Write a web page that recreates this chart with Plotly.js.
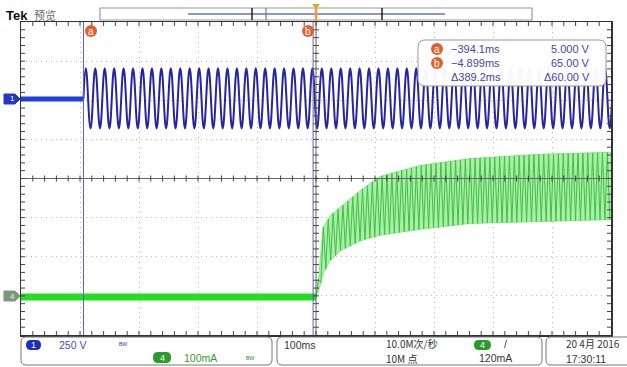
<!DOCTYPE html>
<html><head><meta charset="utf-8">
<script src="https://cdn.plot.ly/plotly-3.0.1.min.js"></script>
<style>html,body{margin:0;padding:0;background:#fff;}#chart{width:627px;height:367px;}</style>
</head><body><div id="chart"></div>
<script>
// ---- data (time in ms, level in divisions) ----
const ch1CursorA = -394.1;          // cursor a time (ms)
const ch1CursorB = -4.899;          // cursor b time (ms)
const ch1FlatLevel = 2.03;          // ch1 baseline before the signal (div)
const ch1PeakTop = 2.82;            // ch1 sine peaks (div)
const ch1PeakBottom = 1.28;         // ch1 sine troughs (div)
const ch1Period = 16.0;             // ch1 period (ms)
const ch4FlatLevel = -3.03;         // ch4 baseline before trigger (div)
const ch4StartTime = 0;             // ch4 current starts at trigger (ms)
const ch4EnvTime = [0, 4, 7, 12, 24, 41, 75, 108, 176, 261, 380, 500];
const ch4EnvTop  = [-3.03, -2.6, -2.1, -1.26, -0.95, -0.74, -0.31, 0.05, 0.33, 0.51, 0.62, 0.67];
const ch4EnvBot  = [-3.03, -2.9, -2.74, -2.44, -2.1, -1.85, -1.59, -1.45, -1.3, -1.15, -1.10, -1.05];
const ch4Period = 8.3;              // ch4 pulse spacing (ms)
const readoutTimes = ["\u2212394.1ms", "\u22124.899ms", "\u0394389.2ms"];
const readoutVolts = ["5.000 V", "65.00 V", "\u039460.00 V"];
const xRange = [-500, 500];
const yRange = [-4, 4];

// ---- geometry helpers ----
const L = 21, R = 611, T = 22, B = 335;
const px = x => (x - L) / (R - L);
const py = y => (B - y) / (B - T);
function interp(xs, ys, x) {
  if (x <= xs[0]) return ys[0];
  for (let i = 1; i < xs.length; i++) {
    if (x <= xs[i]) { const f = (x - xs[i-1]) / (xs[i] - xs[i-1]); return ys[i-1] + f * (ys[i] - ys[i-1]); }
  }
  return ys[ys.length - 1];
}
function rr(x0, y0, x1, y1, r) {
  return `M${px(x0+r)},${py(y0)} L${px(x1-r)},${py(y0)} Q${px(x1)},${py(y0)} ${px(x1)},${py(y0+r)} L${px(x1)},${py(y1-r)} Q${px(x1)},${py(y1)} ${px(x1-r)},${py(y1)} L${px(x0+r)},${py(y1)} Q${px(x0)},${py(y1)} ${px(x0)},${py(y1-r)} L${px(x0)},${py(y0+r)} Q${px(x0)},${py(y0)} ${px(x0+r)},${py(y0)} Z`;
}
function poly(pts) { return 'M' + pts.map(p => px(p[0]) + ',' + py(p[1])).join(' L') + ' Z'; }

// ---- traces ----
const traces = [];
traces.push({x: [xRange[0], ch1CursorA], y: [ch1FlatLevel, ch1FlatLevel], mode: 'lines', line: {color: '#1f3fe0', width: 5}, hoverinfo: 'skip'});
{
  const xs = [ch1CursorA], ys = [ch1FlatLevel];
  let t = ch1CursorA + ch1Period / 4, k = 0;
  while (t <= xRange[1] + ch1Period) { xs.push(t); ys.push(k % 2 === 0 ? ch1PeakTop : ch1PeakBottom); t += ch1Period / 2; k++; }
  traces.push({x: xs, y: ys, mode: 'lines', line: {color: '#2626a0', width: 2, shape: 'spline', smoothing: 1.2}, hoverinfo: 'skip'});
}
traces.push({x: [xRange[0], ch4StartTime], y: [ch4FlatLevel, ch4FlatLevel], mode: 'lines', line: {color: '#22dd22', width: 7}, hoverinfo: 'skip'});
traces.push({x: ch4EnvTime, y: ch4EnvBot, mode: 'lines', line: {color: '#8fe88f', width: 1}, hoverinfo: 'skip'});
traces.push({x: ch4EnvTime, y: ch4EnvTop, mode: 'lines', line: {color: '#8fe88f', width: 1}, fill: 'tonexty', fillcolor: '#a8f0a8', hoverinfo: 'skip'});
{
  const xs = [], ys = [];
  let t = ch4StartTime, k = 0;
  while (t <= xRange[1]) { xs.push(t); ys.push(k % 2 === 0 ? interp(ch4EnvTime, ch4EnvBot, t) : interp(ch4EnvTime, ch4EnvTop, t)); t += ch4Period / 2; k++; }
  traces.push({x: xs, y: ys, mode: 'lines', line: {color: '#45bd45', width: 1}, hoverinfo: 'skip'});
}

// ---- shapes ----
const shapes = [];
const dark = '#444';
shapes.push({type: 'line', xref: 'paper', yref: 'paper', x0: 0, x1: 1, y0: 0.5, y1: 0.5, line: {color: '#666', width: 1}});
shapes.push({type: 'line', xref: 'paper', yref: 'paper', x0: 0.5, x1: 0.5, y0: 0, y1: 1, line: {color: '#666', width: 1}});
for (let i = 1; i < 50; i++) {
  const fx = i / 50;
  shapes.push({type: 'line', xref: 'paper', yref: 'paper', x0: fx, x1: fx, y0: 0.5 - 3/313, y1: 0.5 + 3/313, line: {color: dark, width: 1}});
  shapes.push({type: 'line', xref: 'paper', yref: 'paper', x0: fx, x1: fx, y0: 1, y1: 1 - 4/313, line: {color: dark, width: 1}});
  shapes.push({type: 'line', xref: 'paper', yref: 'paper', x0: fx, x1: fx, y0: 0, y1: 4/313, line: {color: dark, width: 1}});
}
for (let i = 1; i < 40; i++) {
  const fy = i / 40;
  shapes.push({type: 'line', xref: 'paper', yref: 'paper', y0: fy, y1: fy, x0: 0.5 - 3/590, x1: 0.5 + 3/590, line: {color: dark, width: 1}});
  shapes.push({type: 'line', xref: 'paper', yref: 'paper', y0: fy, y1: fy, x0: 0, x1: 4/590, line: {color: dark, width: 1}});
  shapes.push({type: 'line', xref: 'paper', yref: 'paper', y0: fy, y1: fy, x0: 1, x1: 1 - 4/590, line: {color: dark, width: 1}});
}
shapes.push({type: 'line', xref: 'x', yref: 'paper', x0: ch1CursorA, x1: ch1CursorA, y0: 0, y1: 1, line: {color: '#5a62c0', width: 1}});
shapes.push({type: 'line', xref: 'x', yref: 'paper', x0: ch1CursorB, x1: ch1CursorB, y0: 0, y1: 1, line: {color: '#5a62c0', width: 1}});
// readout box (before circles so circles sit on top)
shapes.push({type: 'path', xref: 'paper', yref: 'paper', path: rr(418, 40, 606, 86, 7), fillcolor: 'rgba(255,255,255,0.96)', line: {color: '#999', width: 1}});
const orange = '#e2602c';
[[91, 31], [308, 31], [437, 49], [437, 63]].forEach(c => {
  shapes.push({type: 'circle', xref: 'paper', yref: 'paper', x0: px(c[0]-6), x1: px(c[0]+6), y0: py(c[1]+6), y1: py(c[1]-6), fillcolor: orange, line: {color: orange, width: 0}});
});
// record view bar
shapes.push({type: 'rect', xref: 'paper', yref: 'paper', x0: px(100), x1: px(532), y0: py(20), y1: py(8), fillcolor: '#fff', line: {color: '#999', width: 1.2}});
shapes.push({type: 'line', xref: 'paper', yref: 'paper', x0: px(188), x1: px(445), y0: py(14), y1: py(14), line: {color: '#8a96cc', width: 2}});
shapes.push({type: 'line', xref: 'paper', yref: 'paper', x0: px(252), x1: px(252), y0: py(20), y1: py(8), line: {color: '#222', width: 1.5}});
shapes.push({type: 'line', xref: 'paper', yref: 'paper', x0: px(382), x1: px(382), y0: py(20), y1: py(8), line: {color: '#222', width: 1.5}});
shapes.push({type: 'line', xref: 'paper', yref: 'paper', x0: px(266), x1: px(266), y0: py(20), y1: py(8), line: {color: '#6a76c0', width: 1.2}});
shapes.push({type: 'line', xref: 'paper', yref: 'paper', x0: px(316), x1: px(316), y0: py(21), y1: py(4), line: {color: '#f0a030', width: 2.5}});
shapes.push({type: 'path', xref: 'paper', yref: 'paper', path: poly([[312, 4], [320, 4], [316, 9]]), fillcolor: '#f0a030', line: {width: 0}});
// channel markers on left
shapes.push({type: 'path', xref: 'paper', yref: 'paper', path: poly([[4, 94], [15, 94], [20, 99], [15, 104], [4, 104]]), fillcolor: '#2436c8', line: {color: '#2436c8', width: 1}});
shapes.push({type: 'path', xref: 'paper', yref: 'paper', path: poly([[4, 291], [15, 291], [20, 296], [15, 301], [4, 301]]), fillcolor: '#7a987a', line: {color: '#7a987a', width: 1}});
// status boxes
shapes.push({type: 'path', xref: 'paper', yref: 'paper', path: rr(21, 337, 272, 365, 5), fillcolor: 'rgba(0,0,0,0)', line: {color: '#777', width: 1}});
shapes.push({type: 'path', xref: 'paper', yref: 'paper', path: rr(277, 337, 542, 365, 5), fillcolor: 'rgba(0,0,0,0)', line: {color: '#777', width: 1}});
shapes.push({type: 'path', xref: 'paper', yref: 'paper', path: rr(546, 337, 645, 365, 5), fillcolor: 'rgba(0,0,0,0)', line: {color: '#777', width: 1}});
shapes.push({type: 'path', xref: 'paper', yref: 'paper', path: rr(26, 340, 41, 350, 5), fillcolor: '#1c2ec0', line: {width: 0}});
shapes.push({type: 'path', xref: 'paper', yref: 'paper', path: rr(153, 352, 171, 363, 5), fillcolor: '#2a9a2a', line: {width: 0}});
shapes.push({type: 'path', xref: 'paper', yref: 'paper', path: rr(474, 340, 491, 350, 5), fillcolor: '#2a9a2a', line: {width: 0}});

// ---- annotations ----
const ann = [];
function txt(x, y, s, opts) {
  opts = opts || {};
  ann.push({xref: 'paper', yref: 'paper', x: px(x), y: py(y), text: s, showarrow: false,
    xanchor: opts.xa || 'left', yanchor: 'middle', borderpad: 0,
    font: {family: opts.family || 'Liberation Sans, DejaVu Sans, sans-serif', size: opts.size || 11, color: opts.color || '#333'}});
}
const cjk = 'Noto Sans CJK SC, Liberation Sans, sans-serif';
txt(5, 15, '<b>Tek</b>', {size: 13, color: '#111'});
txt(33, 15, '预览', {size: 11, color: '#666', family: cjk});
txt(91, 31, 'a', {xa: 'center', size: 10, color: '#fff'});
txt(308, 31, 'b', {xa: 'center', size: 10, color: '#fff'});
txt(437, 49, 'a', {xa: 'center', size: 10, color: '#fff'});
txt(437, 63, 'b', {xa: 'center', size: 10, color: '#fff'});
const rc = '#4545a8';
const rowsY = [49, 63, 77];
readoutTimes.forEach((s, i) => txt(450, rowsY[i], s, {color: rc, size: 11}));
readoutVolts.forEach((s, i) => txt(591, rowsY[i], s, {xa: 'right', color: rc, size: 11}));
txt(12, 99, '1', {xa: 'center', size: 8, color: '#fff'});
txt(12, 296, '4', {xa: 'center', size: 8, color: '#e8f0e8'});
txt(33.5, 345, '1', {xa: 'center', size: 9, color: '#fff'});
txt(58, 345, '250 V', {color: '#3a4ec8', size: 10.5});
txt(118, 346, 'ᴮᵂ', {color: '#3a4ec8', size: 8});
txt(162, 357.5, '4', {xa: 'center', size: 9, color: '#fff'});
txt(183, 358, '100mA', {color: '#2e9e2e', size: 10.5});
txt(245, 359, 'ᴮᵂ', {color: '#2e9e2e', size: 8});
txt(283, 345, '100ms', {size: 10.5});
txt(385, 343.5, '10.0M次/秒', {size: 10, family: cjk});
txt(385, 358.5, '10M 点', {size: 10, family: cjk});
txt(482.5, 345, '4', {xa: 'center', size: 9, color: '#fff'});
txt(503, 344, '/', {size: 10.5});
txt(478, 358, '120mA', {size: 10.5});
txt(565, 343.5, '20 4月 2016', {size: 10, family: cjk});
txt(565, 358.5, '17:30:11', {size: 10.5});

const layout = {
  width: 627, height: 367,
  margin: {l: L, r: 627 - R, t: T, b: 367 - B, pad: 0},
  paper_bgcolor: '#fff', plot_bgcolor: '#fff',
  showlegend: false,
  xaxis: {range: xRange, dtick: 100, tick0: 0, showgrid: true, gridcolor: '#bdbdbd', griddash: '1px,4px', gridwidth: 1,
    zeroline: false, showline: true, linecolor: '#333', linewidth: 1.5, mirror: true, ticks: '', showticklabels: false, fixedrange: true},
  yaxis: {range: yRange, dtick: 1, tick0: 0, showgrid: true, gridcolor: '#bdbdbd', griddash: '1px,4px', gridwidth: 1,
    zeroline: false, showline: true, linecolor: '#333', linewidth: 1.5, mirror: true, ticks: '', showticklabels: false, fixedrange: true},
  shapes: shapes,
  annotations: ann
};
Plotly.newPlot('chart', traces, layout, {displayModeBar: false, staticPlot: true});
</script>
</body></html>
